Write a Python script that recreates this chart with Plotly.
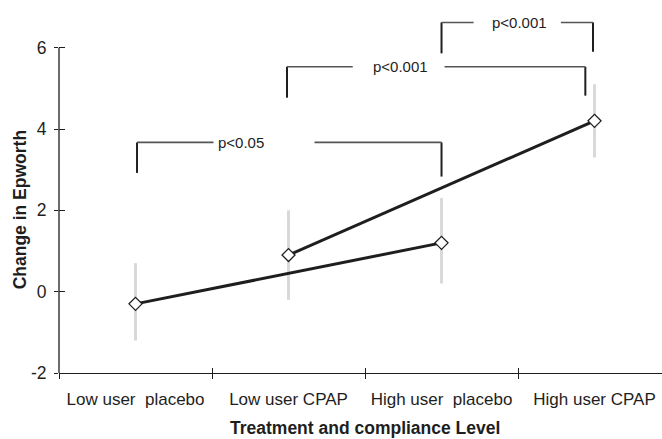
import plotly.graph_objects as go

# ---- data ----
categories = ["Low user  placebo", "Low user CPAP", "High user  placebo", "High user CPAP"]
cat_pos = [0, 1, 2, 3]
cat_bounds = [-0.5, 0.5, 1.5, 2.5]

means = [-0.3, 0.9, 1.2, 4.2]
ci_upper = [0.7, 2.0, 2.3, 5.1]
ci_lower = [-1.2, -0.2, 0.2, 3.3]

placebo_x = [0, 2]
placebo_y = [-0.3, 1.2]
cpap_x = [1, 3]
cpap_y = [0.9, 4.2]

y_ticks = [-2, 0, 2, 4, 6]
y_ticktext = ["-2", "0", "2", "4", "6"]

x_title = "Treatment and compliance Level"
y_title = "Change in Epworth"

# significance brackets
br_labels = ["p<0.05", "p<0.001", "p<0.001"]
br_left = [0.01, 0.99, 2.0]
br_right = [2.0, 2.94, 2.99]
br_level = [3.67, 5.53, 6.62]
br_left_bottom = [2.92, 4.77, 5.86]
br_right_bottom = [2.83, 4.82, 5.90]
br_gap_left = [0.51, 1.42, 2.21]
br_gap_right = [1.17, 2.02, 2.78]
br_label_x = [0.69, 1.73, 2.51]

XR = [-0.5, 3.441]
YR = [-2, 7]
FONT = "Liberation Sans, Arial, sans-serif"
INK = "#1e1e1e"

fig = go.Figure()

err_plus = [u - m for u, m in zip(ci_upper, means)]
err_minus = [m - l for m, l in zip(means, ci_lower)]
fig.add_trace(go.Scatter(
    x=cat_pos, y=means, mode="markers",
    marker=dict(size=1, opacity=0),
    error_y=dict(type="data", symmetric=False, array=err_plus, arrayminus=err_minus,
                 color="#d9d9d9", thickness=3, width=0),
    showlegend=False, hoverinfo="skip"))

for xs, ys in [(placebo_x, placebo_y), (cpap_x, cpap_y)]:
    fig.add_trace(go.Scatter(
        x=xs, y=ys, mode="lines+markers",
        line=dict(color=INK, width=3),
        marker=dict(symbol="diamond", size=10, color="white",
                    line=dict(color=INK, width=1.3)),
        showlegend=False))

# dummy trace for overlay axes (inside half of crossing ticks)
fig.add_trace(go.Scatter(x=[None], y=[None], xaxis="x2", yaxis="y2",
                         showlegend=False, hoverinfo="skip"))

shapes = []
for i in range(len(br_labels)):
    hcol = "#555555"
    shapes.append(dict(type="line", xref="x", yref="y", x0=br_left[i], x1=br_left[i],
                       y0=br_left_bottom[i], y1=br_level[i], line=dict(color=INK, width=2)))
    shapes.append(dict(type="line", xref="x", yref="y", x0=br_right[i], x1=br_right[i],
                       y0=br_right_bottom[i], y1=br_level[i], line=dict(color=INK, width=2)))
    shapes.append(dict(type="line", xref="x", yref="y", x0=br_left[i], x1=br_gap_left[i],
                       y0=br_level[i], y1=br_level[i], line=dict(color=hcol, width=1.6)))
    shapes.append(dict(type="line", xref="x", yref="y", x0=br_gap_right[i], x1=br_right[i],
                       y0=br_level[i], y1=br_level[i], line=dict(color=hcol, width=1.6)))
    fig.add_annotation(x=br_label_x[i], y=br_level[i], xref="x", yref="y",
                       text=br_labels[i], showarrow=False,
                       font=dict(family=FONT, size=15, color=INK))
# y axis line from -2 to 6
shapes.append(dict(type="line", xref="paper", yref="y", x0=0, x1=0,
                   y0=YR[0], y1=y_ticks[-1], line=dict(color=INK, width=1.3)))

# axis titles (centred on the category span / the -2..6 span)
fig.add_annotation(x=(cat_bounds[0] + cat_pos[-1] + 0.5) / 2, y=0, xref="x", yref="paper",
                   yanchor="middle", yshift=-55, text="<b>" + x_title + "</b>",
                   showarrow=False, font=dict(family=FONT, size=17.5, color=INK))
fig.add_annotation(x=0, y=(y_ticks[0] + y_ticks[-1]) / 2, xref="paper", yref="y",
                   xanchor="center", xshift=-39, textangle=-90,
                   text="<b>" + y_title + "</b>",
                   showarrow=False, font=dict(family=FONT, size=17.5, color=INK))

fig.update_layout(
    width=662, height=439,
    margin=dict(l=59, r=0, t=7, b=66),
    paper_bgcolor="white", plot_bgcolor="white",
    shapes=shapes,
    font=dict(family=FONT, size=17, color=INK),
    xaxis=dict(range=XR, tickmode="array", tickvals=cat_pos, ticktext=categories,
               ticks="", ticklen=0, showgrid=False, zeroline=False,
               showline=True, linecolor=INK, linewidth=1.3,
               minor=dict(tickmode="array", tickvals=cat_bounds, ticks="outside",
                          ticklen=5, tickcolor=INK, tickwidth=1, showgrid=False),
               tickfont=dict(size=17),
               ticklabelstandoff=10),
    xaxis2=dict(range=XR, overlaying="x", anchor="y", tickmode="array",
                tickvals=cat_bounds, ticks="inside", ticklen=5, tickcolor=INK,
                showticklabels=False, showgrid=False, zeroline=False, showline=False),
    yaxis=dict(range=YR, tickmode="array", tickvals=y_ticks, ticktext=y_ticktext,
               ticks="outside", ticklen=4, tickcolor=INK, showgrid=False,
               zeroline=False, showline=False,
               tickfont=dict(size=17.5), ticklabelstandoff=4),
    yaxis2=dict(range=YR, overlaying="y", anchor="x", tickmode="array",
                tickvals=y_ticks, ticks="inside", ticklen=6, tickcolor=INK,
                showticklabels=False, showgrid=False, zeroline=False, showline=False),
)

fig.write_html("out.html", config={"displayModeBar": False},
               post_script="document.body.style.margin='0';document.body.style.overflow='hidden';")
